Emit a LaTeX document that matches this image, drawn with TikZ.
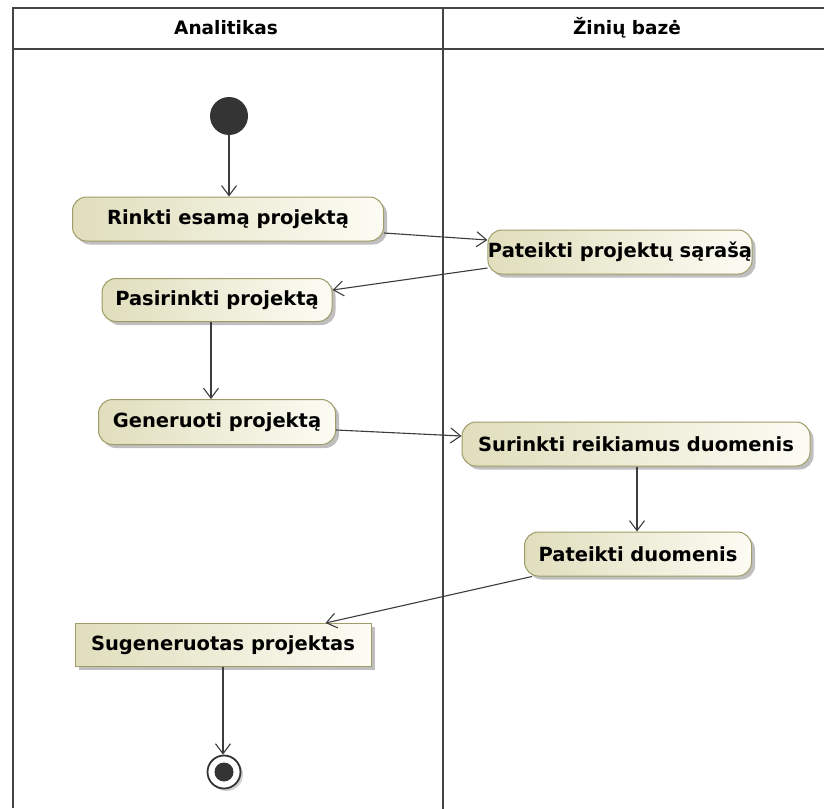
\documentclass[tikz,border=0pt]{standalone}
\usepackage{fontspec}
\setmainfont{DejaVu Sans}
\usetikzlibrary{arrows.meta,shadows,calc}
\definecolor{laneline}{RGB}{68,68,68}
\definecolor{actborder}{RGB}{160,156,104}
\definecolor{actleft}{RGB}{224,222,188}
\definecolor{actright}{RGB}{252,252,244}
\definecolor{flowline}{RGB}{60,60,60}
\definecolor{dotfill}{RGB}{52,52,52}
\tikzset{
  lane/.style={draw=laneline, line width=2.6pt},
  lanetitle/.style={font=\bfseries\fontsize{18.5}{21}\selectfont, inner sep=0pt},
  action/.style={draw=actborder, line width=1pt, rounded corners=14pt,
    left color=actleft, right color=actright,
    drop shadow={shadow xshift=3.5pt, shadow yshift=-3.5pt, fill=black!50, opacity=0.5},
    font=\bfseries\fontsize{19.5}{23}\selectfont, inner sep=0pt},
  objbox/.style={draw=actborder, line width=1pt,
    left color=actleft, right color=actright,
    drop shadow={shadow xshift=3.5pt, shadow yshift=-3.5pt, fill=black!50, opacity=0.5},
    font=\bfseries\fontsize{19.5}{23}\selectfont, inner sep=0pt},
  initnode/.style={circle, fill=dotfill, minimum size=38pt, inner sep=0pt},
  finalnode/.style={circle, draw=dotfill, line width=1.8pt, fill=white, minimum size=33pt, inner sep=0pt,
    drop shadow={shadow xshift=2.5pt, shadow yshift=-2.5pt, fill=black!45, opacity=0.4}},
  finaldot/.style={circle, fill=dotfill, minimum size=19pt, inner sep=0pt},
  flow/.style={draw=flowline, line width=1.1pt, -{Straight Barb[length=10pt, width=15pt, line width=1.1pt]}}
}
\begin{document}
\begin{tikzpicture}[x=1pt, y=-1pt]
  \useasboundingbox (0,0) rectangle (824,808);
  \clip (0,0) rectangle (824,808);
  \fill[white] (0,0) rectangle (824,808);

  % swimlane frame
  \draw[lane] (13,808) -- (13,8) -- (830,8);
  \draw[lane] (13,49) -- (830,49);
  \draw[lane] (443,8) -- (443,812);
  \node[lanetitle] (hdrA) at (226,28) {Analitikas};
  \node[lanetitle] (hdrB) at (627,28) {Žinių bazė};

  % activity nodes
  \node[initnode] (init) at (229,116) {};
  \node[action, minimum width=311pt, minimum height=44pt] (rinkti) at (228,219) {Rinkti esamą projektą};
  \node[action, minimum width=264pt, minimum height=44pt] (pps) at (620,252) {Pateikti projektų sąrašą};
  \node[action, minimum width=230pt, minimum height=43pt] (pas) at (217,300) {Pasirinkti projektą};
  \node[action, minimum width=237pt, minimum height=45pt] (gen) at (217,422) {Generuoti projektą};
  \node[action, minimum width=348pt, minimum height=44pt] (sur) at (636,444) {Surinkti reikiamus duomenis};
  \node[action, minimum width=227pt, minimum height=44pt] (pd) at (638,554) {Pateikti duomenis};
  \node[objbox, minimum width=296pt, minimum height=43pt] (sug) at (223,645) {Sugeneruotas projektas};
  \node[finalnode] (final) at (224,772) {};
  \node[finaldot] (finaldot) at (final.center) {};

  % control flows
  \draw[flow] (init.south) -- (init.south |- rinkti.north);
  \draw[flow] ([yshift=-14pt]rinkti.east) -- ([yshift=12pt]pps.west);
  \draw[flow] ([yshift=-16pt]pps.west) -- ([yshift=10pt]pas.east);
  \draw[flow] ([xshift=-6pt]pas.south) -- ([xshift=-6pt]gen.north);
  \draw[flow] ([yshift=-8pt]gen.east) -- ([yshift=8pt]sur.west);
  \draw[flow] ([xshift=1pt]sur.south) -- ([xshift=1pt]sur.south |- pd.north);
  \draw[flow] ([xshift=8pt]pd.south west) -- ([xshift=-46pt]sug.north east);
  \draw[flow] (sug.south) -- (sug.south |- final.north);
\end{tikzpicture}
\end{document}
